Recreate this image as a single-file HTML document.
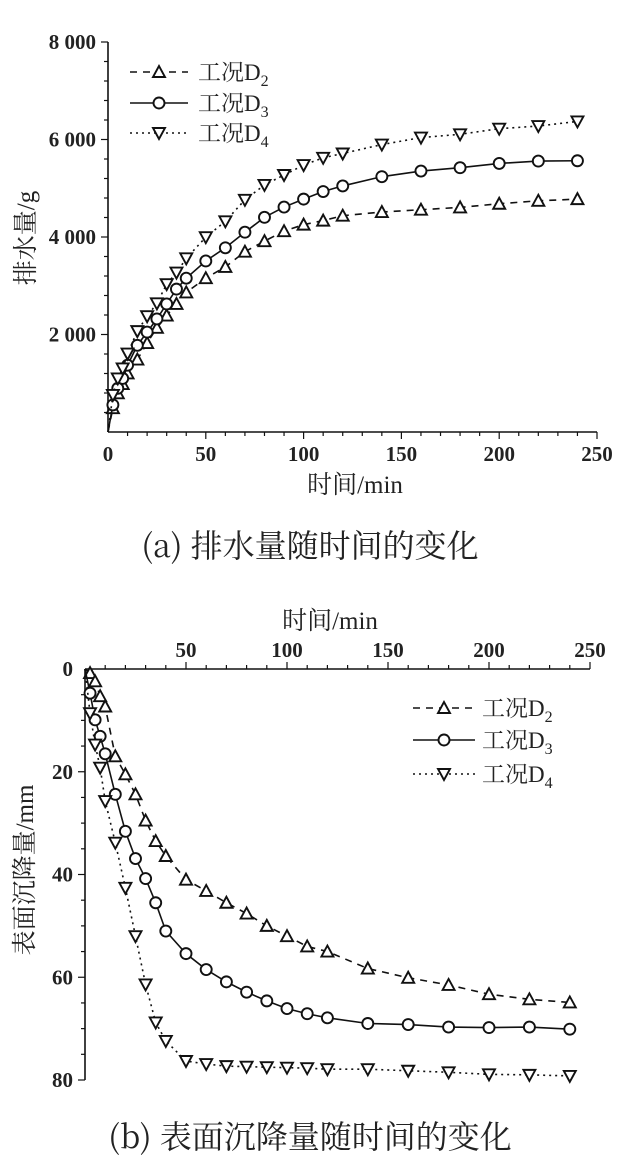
<!DOCTYPE html>
<html><head><meta charset="utf-8"><style>
html,body{margin:0;padding:0;background:#fff;}
svg{display:block;font-family:"Liberation Serif","Noto Serif CJK SC",serif;}
</style></head><body>
<svg id="chart" width="622" height="1175" viewBox="0 0 622 1175">
<g id="top"></g>
<g id="bot"></g>
<text x="310" y="557" font-size="32" text-anchor="middle" fill="#222" style="font-family:'Noto Serif CJK SC','Liberation Serif',serif">(a) 排水量随时间的变化</text>
<text x="310" y="1148" font-size="32" text-anchor="middle" fill="#222" style="font-family:'Noto Serif CJK SC','Liberation Serif',serif">(b) 表面沉降量随时间的变化</text>
</svg>
<script>
const times = [0,2.5,5,7.5,10,15,20,25,30,35,40,50,60,70,80,90,100,110,120,140,160,180,200,220,240];
const drainD2 = [0,489,794,984,1201,1486,1825,2137,2388,2626,2863,3155,3386,3698,3915,4119,4254,4336,4437,4512,4560,4607,4682,4743,4777];
const drainD3 = [0,556,896,1099,1371,1778,2049,2320,2626,2931,3155,3508,3779,4098,4403,4614,4777,4933,5048,5238,5353,5421,5509,5557,5564];
const drainD4 = [0,760,1099,1303,1608,2069,2375,2639,3033,3270,3562,3996,4322,4763,5068,5272,5475,5625,5713,5896,6039,6107,6222,6276,6371];
const settleD2 = [0,0.8,2.4,5.3,7.3,17,20.5,24.4,29.5,33.5,36.4,41,43.2,45.5,47.6,50,52,54,55,58.3,60.1,61.5,63.3,64.3,64.9];
const settleD3 = [0,4.7,9.9,13.1,16.5,24.4,31.6,36.9,40.8,45.5,51,55.4,58.5,60.9,62.9,64.6,66.1,67.1,67.9,69,69.2,69.7,69.8,69.7,70.1];
const settleD4 = [0,8.6,14.7,19.2,25.7,33.8,42.6,52,61.4,68.8,72.4,76.3,76.9,77.3,77.4,77.5,77.6,77.7,77.9,77.9,78.2,78.5,78.9,79,79.2];
const topYTicks = [2000,4000,6000,8000];
const topYLabels = ["2 000","4 000","6 000","8 000"];
const xTicks = [0,50,100,150,200,250];
const botXTicks = [50,100,150,200,250];
const botYTicks = [0,20,40,60,80];
const legendLabels = ["D2","D3","D4"];

const NS="http://www.w3.org/2000/svg";
function mk(p,tag,a,txt){const e=document.createElementNS(NS,tag);for(const k in a)e.setAttribute(k,a[k]);if(txt!==undefined)e.textContent=txt;p.appendChild(e);return e;}
function marker(g,type,x,y){
  let e;
  if(type==="up"){e=mk(g,"polygon",{points:`${x},${y-6} ${x-6},${y+5} ${x+6},${y+5}`,fill:"#fff",stroke:"#111","stroke-width":1.9});}
  else if(type==="down"){e=mk(g,"polygon",{points:`${x},${y+6} ${x-6},${y-5} ${x+6},${y-5}`,fill:"#fff",stroke:"#111","stroke-width":1.9});}
  else {e=mk(g,"circle",{cx:x,cy:y,r:5.5,fill:"#fff",stroke:"#111","stroke-width":1.9});}
  return e;
}
const styles=[{dash:"7,6",m:"up"},{dash:"",m:"circle"},{dash:"2,4",m:"down"}];
const TF={"font-size":21,"font-weight":"bold",fill:"#222"};

// ---- top chart ----
(function(){
  const g=document.getElementById("top");
  const X0=108,X1=597,Y0=432,Y1=42;
  const sx=t=>X0+(t/250)*(X1-X0), sy=v=>Y0-(v/8000)*(Y0-Y1);
  let e;
  e=mk(g,"line",{x1:X0,y1:Y1,x2:X0,y2:Y0,stroke:"#111","stroke-width":1.6});
  
  
  e=mk(g,"line",{x1:X0,y1:Y0,x2:X1,y2:Y0,stroke:"#111","stroke-width":1.6});
  
  
  for(let v=400;v<=8000;v+=400){const major=v%2000===0;mk(g,"line",{x1:X0-(major?7:4),y1:sy(v),x2:X0,y2:sy(v),stroke:"#111","stroke-width":1.2});}
  for(let t=10;t<=250;t+=10){const major=t%50===0;mk(g,"line",{x1:sx(t),y1:Y0,x2:sx(t),y2:Y0+(major?7:4),stroke:"#111","stroke-width":1.2});}
  topYTicks.forEach((v,i)=>{e=mk(g,"text",Object.assign({x:X0-12,y:sy(v)+7,"text-anchor":"end"},TF),topYLabels[i]);
    
    });
  xTicks.forEach(t=>{e=mk(g,"text",Object.assign({x:sx(t),y:Y0+29,"text-anchor":"middle"},TF),String(t));
    
    });
  e=mk(g,"text",{x:355,y:493,"font-size":25,"text-anchor":"middle",fill:"#222"},"时间/min");
  
  
  e=mk(g,"text",{x:0,y:0,"font-size":25,"text-anchor":"middle",fill:"#222",transform:"translate(34,238) rotate(-90)"},"排水量/g");
  
  
  [drainD2,drainD3,drainD4].forEach((arr,si)=>{
    const s=styles[si];
    const pts=arr.map((v,i)=>sx(times[i])+","+sy(v)).join(" ");
    e=mk(g,"polyline",{points:pts,fill:"none",stroke:"#111","stroke-width":1.6,"stroke-dasharray":s.dash});
    
    
    arr.forEach((v,i)=>{if(i===0)return;e=marker(g,s.m,sx(times[i]),sy(v));
      
      });
  });
  const ly=[72,103,133];
  legendLabels.forEach((lab,i)=>{
    const lg=mk(g,"g",{});
    
    
    mk(lg,"line",{x1:130,y1:ly[i],x2:188,y2:ly[i],stroke:"#111","stroke-width":1.6,"stroke-dasharray":styles[i].dash});
    marker(lg,styles[i].m,159,ly[i]);
    const t=mk(lg,"text",{x:198,y:ly[i]+8,"font-size":23,fill:"#222"},"工况"+lab[0]);
    mk(t,"tspan",{dy:6,"font-size":16},lab[1]);
  });
})();

// ---- bottom chart ----
(function(){
  const g=document.getElementById("bot");
  const X0=85,X1=590,Y0=669,Y1=1080;
  const sx=t=>X0+(t/250)*(X1-X0), sy=v=>Y0+(v/80)*(Y1-Y0);
  let e;
  e=mk(g,"line",{x1:X0,y1:Y0,x2:X0,y2:Y1,stroke:"#111","stroke-width":1.6});
  
  
  e=mk(g,"line",{x1:X0,y1:Y0,x2:X1,y2:Y0,stroke:"#111","stroke-width":1.6});
  
  
  for(let v=5;v<=80;v+=5){const major=v%20===0;mk(g,"line",{x1:X0-(major?7:4),y1:sy(v),x2:X0,y2:sy(v),stroke:"#111","stroke-width":1.2});}
  for(let t=10;t<=250;t+=10){const major=t%50===0;mk(g,"line",{x1:sx(t),y1:Y0,x2:sx(t),y2:Y0-(major?7:4),stroke:"#111","stroke-width":1.2});}
  botYTicks.forEach(v=>{e=mk(g,"text",Object.assign({x:X0-12,y:sy(v)+7,"text-anchor":"end"},TF),String(v));
    
    });
  botXTicks.forEach(t=>{e=mk(g,"text",Object.assign({x:sx(t),y:Y0-12,"text-anchor":"middle"},TF),String(t));
    
    });
  e=mk(g,"text",{x:330,y:629,"font-size":25,"text-anchor":"middle",fill:"#222"},"时间/min");
  
  
  e=mk(g,"text",{x:0,y:0,"font-size":25,"text-anchor":"middle",fill:"#222",transform:"translate(33,870) rotate(-90)"},"表面沉降量/mm");
  
  
  [settleD2,settleD3,settleD4].forEach((arr,si)=>{
    const s=styles[si];
    const pts=arr.map((v,i)=>sx(times[i])+","+sy(v)).join(" ");
    e=mk(g,"polyline",{points:pts,fill:"none",stroke:"#111","stroke-width":1.6,"stroke-dasharray":s.dash});
    
    
    arr.forEach((v,i)=>{if(i===0)return;e=marker(g,s.m,sx(times[i]),sy(v));
      
      });
  });
  const ly=[708,740,774];
  legendLabels.forEach((lab,i)=>{
    const lg=mk(g,"g",{});
    
    
    mk(lg,"line",{x1:413,y1:ly[i],x2:475,y2:ly[i],stroke:"#111","stroke-width":1.6,"stroke-dasharray":styles[i].dash});
    marker(lg,styles[i].m,444,ly[i]);
    const t=mk(lg,"text",{x:482,y:ly[i]+8,"font-size":23,fill:"#222"},"工况"+lab[0]);
    mk(t,"tspan",{dy:6,"font-size":16},lab[1]);
  });
})();
</script>
</body></html>
